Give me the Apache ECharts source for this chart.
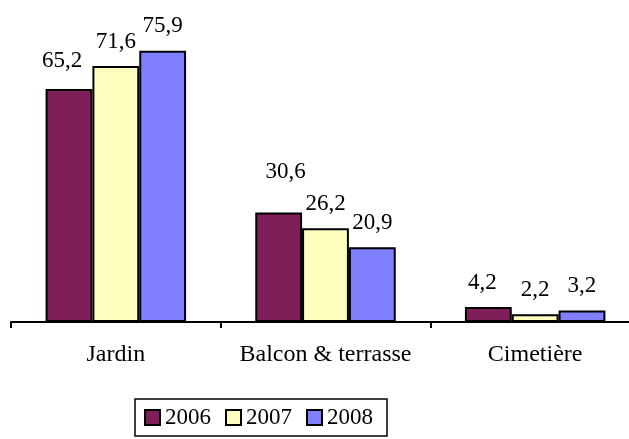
<!DOCTYPE html>
<html>
<head>
<meta charset="utf-8">
<script src="https://cdn.jsdelivr.net/npm/echarts@6/dist/echarts.min.js"></script>
<style>
html,body{margin:0;padding:0;background:#fff;}
#main{width:629px;height:439px;}
</style>
</head>
<body>
<div id="main"></div>
<script>
// lieux
var categories = ['Jardin', 'Balcon & terrasse', 'Cimetière'];
var years = ['2006', '2007', '2008'];
var val2006 = [65.2, 30.6, 4.2];
var val2007 = [71.6, 26.2, 2.2];
var val2008 = [75.9, 20.9, 3.2];

var colors = ['#7f1f5a', '#ffffc0', '#8080ff'];
var font = 'Liberation Serif';

// petits decalages des etiquettes (comme dans le graphique Excel)
var labelShift = {
	'0-0': [-7, -3],
	'0-1': [7, -16],
	'0-2': [-6, 0]
};

function fmt(v){
	return String(v).replace('.', ',');
}

function buildSeries(idx, name, arr){
	return {
		name: name,
		type: 'bar',
		barGap: '0%',
		barCategoryGap: '33%',
		itemStyle: {
			color: colors[idx],
			borderColor: '#000',
			borderWidth: 2
		},
		label: {
			show: true,
			position: 'top',
			distance: 13,
			color: '#000',
			fontFamily: font,
			fontSize: 23,
			formatter: function(p){ return fmt(p.value); }
		},
		data: arr.map(function(v, i){
			var item = {value: v};
			var s = labelShift[idx + '-' + i];
			if (s) item.label = {offset: s};
			return item;
		})
	};
}

var option = {
	animation: false,
	grid: {
		left: 11,
		right: -11,
		top: 36,
		bottom: 117,
		containLabel: false,
		outerBoundsMode: 'none'
	},
	legend: {
		left: 135,
		top: 399,
		data: years,
		icon: 'rect',
		itemWidth: 15,
		itemHeight: 15,
		itemGap: 14,
		padding: [7, 14, 7, 9],
		borderColor: '#000',
		borderWidth: 1.5,
		textStyle: {
			color: '#000',
			fontFamily: font,
			fontSize: 23
		}
	},
	xAxis: {
		type: 'category',
		data: categories,
		axisLine: {lineStyle: {color: '#000', width: 2}},
		axisTick: {show: true, length: 6, interval: 0, lineStyle: {color: '#000', width: 2}},
		axisLabel: {
			interval: 0,
			color: '#000',
			fontFamily: font,
			fontSize: 24,
			margin: 21
		}
	},
	yAxis: {
		type: 'value',
		min: 0,
		max: 80,
		show: false,
		splitLine: {show: false}
	},
	series: [
		buildSeries(0, years[0], val2006),
		buildSeries(1, years[1], val2007),
		buildSeries(2, years[2], val2008)
	]
};

var myChart = echarts.init(document.getElementById('main'));
myChart.setOption(option);
</script>
</body>
</html>
